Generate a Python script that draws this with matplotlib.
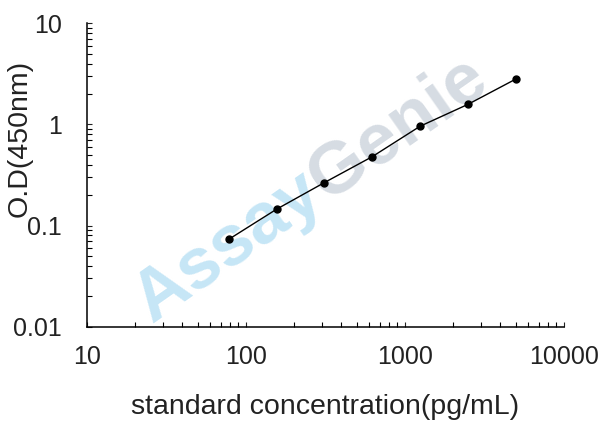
import matplotlib
matplotlib.use("Agg")
import numpy as np
import matplotlib.pyplot as plt
from matplotlib.ticker import LogLocator, FixedFormatter, NullFormatter

plt.rcParams['font.family'] = ['Liberation Sans', 'DejaVu Sans']

# standard curve
conc = [78.125, 156.25, 312.5, 625, 1250, 2500, 5000]
od = [0.073, 0.145, 0.266, 0.48, 0.96, 1.58, 2.81]

x_ticks = [10, 100, 1000, 10000]
x_labels = ['10', '100', '1000', '10000']
y_ticks = [0.01, 0.1, 1, 10]
y_labels = ['0.01', '0.1', '1', '10']

W, H = 608, 436
fig = plt.figure(figsize=(W / 100, H / 100), dpi=100)
ax = fig.add_axes([86.7 / W, 1 - 326.7 / H, 477 / W, 303.4 / H])

ax.plot(conc, od, color='black', lw=1.0, marker='o', ms=5, zorder=3)

ax.set_xscale('log')
ax.set_yscale('log')
ax.set_xlim(10, 10000)
ax.set_ylim(0.01, 10)

ax.set_xticks(x_ticks)
ax.xaxis.set_major_formatter(FixedFormatter(x_labels))
ax.set_yticks(y_ticks)
ax.yaxis.set_major_formatter(FixedFormatter(y_labels))
ax.xaxis.set_minor_locator(LogLocator(base=10, subs=range(2, 10)))
ax.yaxis.set_minor_locator(LogLocator(base=10, subs=range(2, 10)))
ax.xaxis.set_minor_formatter(NullFormatter())
ax.yaxis.set_minor_formatter(NullFormatter())

ax.tick_params(which='both', direction='in', length=3.5, width=0.8, color='black')
ax.tick_params(axis='x', which='major', labelsize=18, pad=13, colors='#222222')
ax.tick_params(axis='y', which='major', labelsize=18, pad=18, colors='#222222')

for s in ['top', 'right']:
    ax.spines[s].set_visible(False)
for s in ['left', 'bottom']:
    ax.spines[s].set_linewidth(1.1)

ax.set_xlabel('standard concentration(pg/mL)', fontsize=20.5, color='#222222')
ax.set_ylabel('O.D(450nm)', fontsize=20.5, color='#222222')
ax.xaxis.set_label_coords(0.5, -0.222)
ax.yaxis.set_label_coords(-0.113, 0.62)

# watermark
ang = 35
wm_size = 52
em = wm_size * 100 / 72
x0, y0 = 152, 324
adv = 2.946 * em  # width of bold "Assay"
x1 = x0 + adv * np.cos(np.radians(ang))
y1 = y0 - adv * np.sin(np.radians(ang))
ax.text(x0 / W, 1 - y0 / H, 'Assay', transform=fig.transFigure, rotation=ang,
        rotation_mode='anchor', ha='left', va='baseline', fontsize=wm_size,
        fontweight='bold', color='#c6e6f6', zorder=1, clip_on=False)
ax.text(x1 / W, 1 - y1 / H, 'Genie', transform=fig.transFigure, rotation=ang,
        rotation_mode='anchor', ha='left', va='baseline', fontsize=wm_size,
        fontweight='bold', color='#d6dce3', zorder=1, clip_on=False)

fig.savefig('out.png', dpi=100)
